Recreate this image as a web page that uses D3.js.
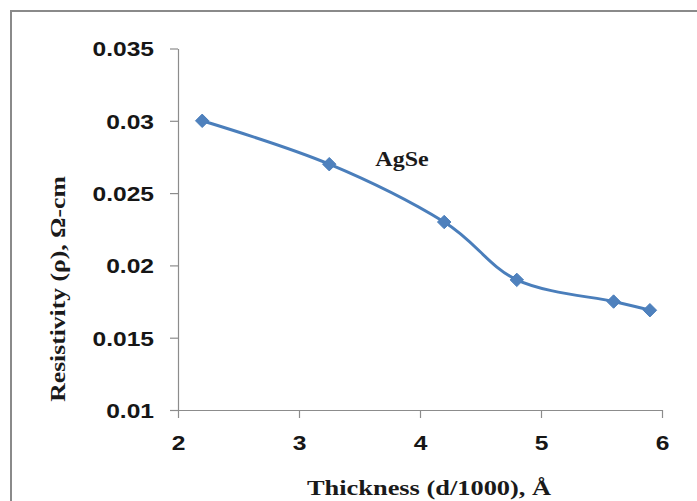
<!DOCTYPE html>
<html>
<head>
<meta charset="utf-8">
<script src="https://cdn.jsdelivr.net/npm/d3@7"></script>
<style>
  body { margin: 0; background: #fff; }
  svg { display: block; }
</style>
</head>
<body>
<div id="chart"></div>
<script>
// Data
const thickness = [2.2, 3.25, 4.2, 4.8, 5.6, 5.9];
const resistivity = [0.030, 0.027, 0.023, 0.019, 0.0175, 0.0169];
const xTicks = [2, 3, 4, 5, 6];
const yTicks = [0.01, 0.015, 0.02, 0.025, 0.03, 0.035];
const yTickLabels = ["0.01", "0.015", "0.02", "0.025", "0.03", "0.035"];
const seriesLabel = "AgSe";
const xTitle = "Thickness (d/1000), Å";
const yTitle = "Resistivity (ρ), Ω-cm";

function createChart() {
    const W = 697, H = 501;
    const stretch = 1.2; // the picture is a bit wider than tall

    const svg = d3.select("#chart").append("svg")
        .attr("width", W)
        .attr("height", H);

    // Chart frame (runs off the right and bottom edge)
    svg.append("rect")
        .attr("x", 11).attr("y", 11)
        .attr("width", W + 20).attr("height", H + 20)
        .attr("fill", "#fff")
        .attr("stroke", "#8a8a8a")
        .attr("stroke-width", 2);

    const xScale = d3.scaleLinear().domain([2, 6]).range([178, 662]);
    const yScale = d3.scaleLinear().domain([0.01, 0.035]).range([410, 48.5]);

    // Axes
    const yAxis = svg.append("g")
        .attr("transform", `translate(${xScale(2)},0)`)
        .call(d3.axisLeft(yScale).tickValues(yTicks)
            .tickFormat((d, i) => yTickLabels[i]).tickSize(8).tickSizeOuter(0));

    const xAxis = svg.append("g")
        .attr("transform", `translate(0,${yScale(0.01)})`)
        .call(d3.axisBottom(xScale).tickValues(xTicks)
            .tickFormat(d3.format("d")).tickSize(8).tickSizeOuter(0));

    [xAxis, yAxis].forEach(ax => {
        ax.select(".domain").attr("stroke", "#8c8c8c").attr("stroke-width", 1.2);
        ax.selectAll(".tick line").attr("stroke", "#8c8c8c").attr("stroke-width", 1.2);
        ax.selectAll(".tick text")
            .attr("fill", "#161616")
            .style("font-family", "'Liberation Sans', Arial, sans-serif")
            .style("font-weight", "bold")
            .style("font-size", "20.5px");
    });

    yAxis.selectAll(".tick text")
        .attr("x", -24 / stretch)
        .attr("dy", "0.36em")
        .attr("transform", `scale(${stretch},1)`);

    xAxis.selectAll(".tick text")
        .attr("y", 40)
        .attr("dy", 0)
        .attr("transform", `scale(${stretch},1)`);

    // Axis titles
    svg.append("text")
        .attr("transform", `translate(429,495) scale(1.2,1)`)
        .attr("text-anchor", "middle")
        .style("font-family", "'Liberation Serif', 'Times New Roman', serif")
        .style("font-weight", "bold")
        .style("font-size", "22px")
        .attr("fill", "#1a1a1a")
        .text(xTitle);

    svg.append("text")
        .attr("transform", `translate(65,289) rotate(-90) scale(1.22,1)`)
        .attr("text-anchor", "middle")
        .style("font-family", "'Liberation Serif', 'Times New Roman', serif")
        .style("font-weight", "bold")
        .style("font-size", "21px")
        .attr("fill", "#1a1a1a")
        .text(yTitle);

    // Series
    const data = thickness.map((t, i) => ({ x: t, y: resistivity[i] }));

    const line = d3.line()
        .x(d => xScale(d.x))
        .y(d => yScale(d.y))
        .curve(d3.curveCardinal.tension(0));

    svg.append("path")
        .datum(data)
        .attr("d", line)
        .attr("fill", "none")
        .attr("stroke", "#4a7ebb")
        .attr("stroke-width", 3);

    svg.selectAll(".marker")
        .data(data)
        .enter().append("path")
        .attr("class", "marker")
        .attr("transform", d => `translate(${xScale(d.x)},${yScale(d.y)})`)
        .attr("d", d3.symbol().type(d3.symbolDiamond2).size(115))
        .attr("fill", "#4f81bd")
        .attr("stroke", "#4a7ebb")
        .attr("stroke-width", 1);

    // Series label
    svg.append("text")
        .attr("transform", `translate(402,166) scale(1.2,1)`)
        .attr("text-anchor", "middle")
        .style("font-family", "'Liberation Serif', 'Times New Roman', serif")
        .style("font-weight", "bold")
        .style("font-size", "20px")
        .attr("fill", "#1a1a1a")
        .text(seriesLabel);
}

createChart();
</script>
</body>
</html>
